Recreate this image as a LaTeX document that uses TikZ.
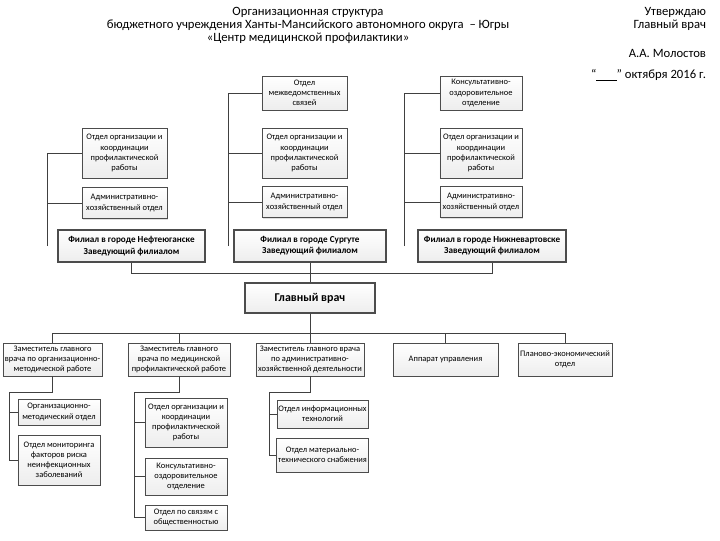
\documentclass[tikz,border=0pt]{standalone}
\usepackage{fontspec}
\setmainfont{Carlito}
\usetikzlibrary{calc,shadows}

\begin{document}
\begin{tikzpicture}[x=0.025cm,y=-0.025cm,font=\fontsize{6}{7.2}\selectfont]
\tikzstyle{otd}=[draw=gray!60!black,top color=white,bottom color=gray!14,drop shadow={opacity=0.25,shadow xshift=0.8pt,shadow yshift=-0.8pt},align=center,inner sep=1pt]
\tikzstyle{fil}=[otd,line width=0.9pt,font=\fontsize{6.5}{8}\selectfont\bfseries]
\tikzstyle{ln}=[draw=black!75,line width=0.5pt]
\useasboundingbox (0,0) rectangle (720,540);
% шапка
\node[font=\fontsize{9}{11}\selectfont] (t1) at (308,12) {Организационная структура};
\node[font=\fontsize{9}{11}\selectfont] (t2) at (308,25) {бюджетного учреждения Ханты-Мансийского автономного округа \ – Югры};
\node[font=\fontsize{9}{11}\selectfont] (t3) at (308,38) {«Центр медицинской профилактики»};
\node[font=\fontsize{9}{11}\selectfont,anchor=east] (u1) at (711,12) {Утверждаю};
\node[font=\fontsize{9}{11}\selectfont,anchor=east] (u2) at (711,25) {Главный врач};
\node[font=\fontsize{9}{11}\selectfont,anchor=east] (u3) at (711,53) {А.А. Молостов};
\node[font=\fontsize{9}{11}\selectfont,anchor=east] (u4) at (711,75) {“\underline{\hspace{1.6em}}” октября 2016 г.};
% филиалы
\node[otd,minimum width=2.125cm,minimum height=1.25cm] (l1) at (124.5,153) {Отдел организации и\\координации\\профилактической\\работы};
\node[otd,minimum width=2.125cm,minimum height=0.78cm] (l2) at (124.5,203) {Административно-\\хозяйственный отдел};
\node[otd,minimum width=2.125cm,minimum height=0.85cm] (m1) at (304.5,93) {Отдел\\межведомственных\\связей};
\node[otd,minimum width=2.125cm,minimum height=1.25cm] (m2) at (304.5,153) {Отдел организации и\\координации\\профилактической\\работы};
\node[otd,minimum width=2.125cm,minimum height=0.78cm] (m3) at (304.5,202) {Административно-\\хозяйственный отдел};
\node[otd,minimum width=2.05cm,minimum height=0.85cm] (r1) at (481,93) {Консультативно-\\оздоровительное\\отделение};
\node[otd,minimum width=2.05cm,minimum height=1.25cm] (r2) at (481,153) {Отдел организации и\\координации\\профилактической\\работы};
\node[otd,minimum width=2.05cm,minimum height=0.78cm] (r3) at (481,202) {Административно-\\хозяйственный отдел};
\node[fil,minimum width=3.675cm,minimum height=0.8cm] (f1) at (131.5,246) {Филиал в городе Нефтеюганске\\Заведующий филиалом};
\node[fil,minimum width=3.8cm,minimum height=0.8cm] (f2) at (310,246) {Филиал в городе Сургуте\\Заведующий филиалом};
\node[fil,minimum width=3.7cm,minimum height=0.8cm] (f3) at (492,246) {Филиал в городе Нижневартовске\\Заведующий филиалом};
\coordinate (kl) at (47,246); \coordinate (km) at (228,246); \coordinate (kr) at (404,246);
\draw[ln] (kl) |- (l1.west); \draw[ln] (kl |- l2.west) -- (l2.west);
\draw[ln] (km) |- (m1.west); \draw[ln] (km |- m2.west) -- (m2.west); \draw[ln] (km |- m3.west) -- (m3.west);
\draw[ln] (kr) |- (r1.west); \draw[ln] (kr |- r2.west) -- (r2.west); \draw[ln] (kr |- r3.west) -- (r3.west);
% главный врач
\node[otd,line width=0.9pt,font=\fontsize{8.5}{10}\selectfont\bfseries,minimum width=3.25cm,minimum height=0.75cm] (gv) at (310,298) {Главный врач};
\draw[ln] (f1.south) -- ++(0,11) -| (f3.south); \draw[ln] (f2.south) -- (gv.north);
% заместители
\node[otd,minimum width=2.475cm,minimum height=0.825cm] (d1) at (52.5,359.5) {Заместитель главного\\врача по организационно-\\методической работе};
\node[otd,minimum width=2.55cm,minimum height=0.825cm] (d2) at (179,359.5) {Заместитель главного\\врача по медицинской\\профилактической работе};
\node[otd,minimum width=2.7cm,minimum height=0.825cm] (d3) at (310,359.5) {Заместитель главного врача\\по административно-\\хозяйственной деятельности};
\node[otd,minimum width=2.625cm,minimum height=0.825cm] (d4) at (445.5,359.5) {Аппарат управления};
\node[otd,minimum width=2.35cm,minimum height=0.825cm] (d5) at (565,359.5) {Планово-экономический\\отдел};
\draw[ln] (gv.south) -- ++(0,20) coordinate (sh);
\foreach \d in {d1,d2,d3,d4,d5} \draw[ln] (sh) -| (\d.north);
% отделы
\node[otd,minimum width=2.05cm,minimum height=0.65cm] (s11) at (59,412) {Организационно-\\методический отдел};
\node[otd,minimum width=2.05cm,minimum height=1.25cm] (s12) at (59,460) {Отдел мониторинга\\факторов риска\\неинфекционных\\заболеваний};
\node[otd,minimum width=2.05cm,minimum height=1.225cm] (s21) at (186,422.5) {Отдел организации и\\координации\\профилактической\\работы};
\node[otd,minimum width=2.05cm,minimum height=0.925cm] (s22) at (186,476.5) {Консультативно-\\оздоровительное\\отделение};
\node[otd,minimum width=2.05cm,minimum height=0.625cm] (s23) at (186,517.5) {Отдел по связям с\\общественностью};
\node[otd,minimum width=2.275cm,minimum height=0.7cm] (s31) at (322.5,414) {Отдел информационных\\технологий};
\node[otd,minimum width=2.275cm,minimum height=0.85cm] (s32) at (322.5,455) {Отдел материально-\\технического снабжения};
\draw[ln] (d1.south) -- ++(0,16) -| ($(s12.west)+(-8,0)$) -- (s12.west); \draw[ln] (s11.west) -- ++(-8,0);
\draw[ln] (d2.south) -- ++(0,16) -| ($(s23.west)+(-10,0)$) -- (s23.west); \draw[ln] (s21.west) -- ++(-10,0); \draw[ln] (s22.west) -- ++(-10,0);
\draw[ln] (d3.south) -- ++(0,16) -| ($(s32.west)+(-7,0)$) -- (s32.west); \draw[ln] (s31.west) -- ++(-7,0);
\end{tikzpicture}
\end{document}
